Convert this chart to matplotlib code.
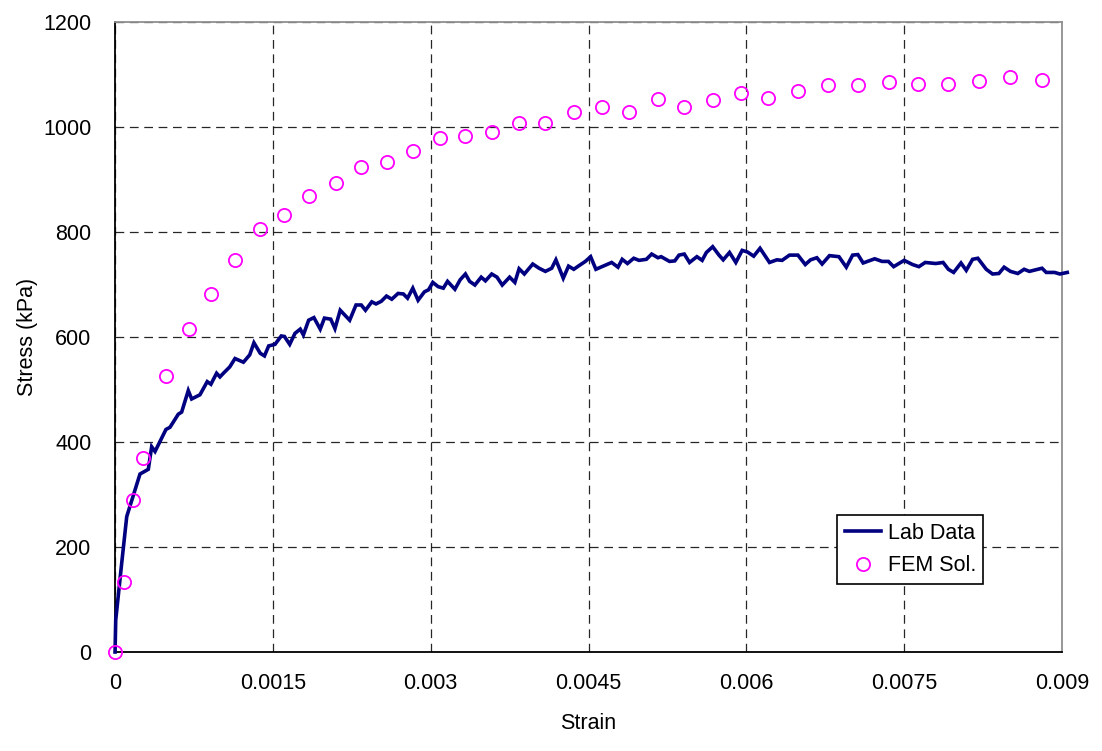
import numpy as np
import matplotlib.pyplot as plt
from matplotlib.ticker import FixedLocator, FixedFormatter

plt.rcParams['font.family'] = ['Liberation Sans', 'DejaVu Sans']

# Lab test: stress-strain record
lab_strain = [
    0.0, 0.0000064, 0.0000636, 0.000111, 0.000237, 0.000316, 0.000348, 0.00038,
    0.000427, 0.000484, 0.000522, 0.000601, 0.000633, 0.000696, 0.000728, 0.000807,
    0.000876, 0.000911, 0.000965, 0.000997, 0.00103, 0.00109, 0.00114, 0.00122,
    0.00128, 0.00132, 0.00138, 0.00142, 0.00146, 0.00152, 0.00158, 0.00161,
    0.00166, 0.00171, 0.00176, 0.00179, 0.00184, 0.00189, 0.00195, 0.00199,
    0.00205, 0.00209, 0.00214, 0.00223, 0.00229, 0.00234, 0.00238, 0.00244,
    0.00248, 0.00253, 0.00258, 0.00263, 0.00269, 0.00274, 0.00278, 0.00283,
    0.00288, 0.00294, 0.00298, 0.00302, 0.00307, 0.00312, 0.00316, 0.00323,
    0.00328, 0.00333, 0.00337, 0.00342, 0.00348, 0.00352, 0.00358, 0.00363,
    0.00368, 0.00375, 0.0038, 0.00384, 0.00389, 0.00397, 0.00403, 0.00409,
    0.00415, 0.00419, 0.00426, 0.00431, 0.00436, 0.00441, 0.00447, 0.00452,
    0.00457, 0.00464, 0.00472, 0.00478, 0.00482, 0.00487, 0.00493, 0.00498,
    0.00505, 0.0051, 0.00516, 0.00519, 0.00527, 0.00532, 0.00536, 0.00541,
    0.00546, 0.00553, 0.00558, 0.00562, 0.00568, 0.00574, 0.00578, 0.00584,
    0.0059, 0.00596, 0.00601, 0.00607, 0.00613, 0.00622, 0.00629, 0.00634,
    0.00641, 0.00649, 0.00656, 0.00661, 0.00667, 0.00672, 0.00679, 0.00688,
    0.00695, 0.00701, 0.00706, 0.00711, 0.00722, 0.00729, 0.00735, 0.0074,
    0.0075, 0.00758, 0.00764, 0.0077, 0.0078, 0.00787, 0.00792, 0.00797,
    0.00804, 0.00809, 0.00815, 0.0082, 0.00828, 0.00834, 0.0084, 0.00845,
    0.00851, 0.00858, 0.00864, 0.00869, 0.00881, 0.00885, 0.00893, 0.00898,
    0.00905,
]
lab_stress = [
    0, 61, 170, 258, 339, 348, 391, 382,
    401, 424, 428, 453, 457, 498, 482, 490,
    515, 510, 531, 524, 531, 543, 559, 552,
    566, 589, 569, 564, 583, 586, 602, 601,
    586, 607, 615, 604, 632, 637, 615, 636,
    634, 616, 651, 632, 661, 661, 651, 667,
    663, 668, 678, 672, 683, 682, 674, 693,
    670, 686, 690, 704, 696, 693, 706, 691,
    709, 720, 706, 699, 714, 707, 720, 714,
    699, 714, 704, 730, 720, 739, 731, 725,
    731, 747, 712, 735, 729, 736, 744, 753,
    729, 735, 742, 733, 748, 740, 750, 746,
    748, 758, 751, 753, 744, 745, 756, 758,
    742, 753, 746, 761, 772, 756, 747, 761,
    742, 765, 762, 754, 769, 742, 747, 746,
    756, 756, 738, 747, 751, 739, 755, 753,
    733, 756, 757, 741, 749, 744, 744, 734,
    746, 738, 734, 742, 740, 742, 729, 723,
    741, 727, 748, 750, 729, 720, 721, 733,
    725, 721, 729, 725, 731, 723, 723, 720,
    723,
]

# Finite element prediction
fem_strain = [
    0.0, 0.0000854, 0.000171, 0.000266, 0.000484, 0.000703, 0.000911, 0.00114,
    0.00138, 0.00161, 0.00184, 0.00210, 0.00234, 0.00258, 0.00283, 0.00309,
    0.00333, 0.00358, 0.00384, 0.00409, 0.00436, 0.00463, 0.00488, 0.00516,
    0.00541, 0.00568, 0.00595, 0.00621, 0.00649, 0.00678, 0.00706, 0.00736,
    0.00763, 0.00792, 0.00821, 0.00851, 0.00881,
]
fem_stress = [
    0, 133, 290, 370, 526, 615, 682, 747,
    806, 832, 869, 893, 924, 933, 954, 979,
    983, 990, 1008, 1008, 1029, 1038, 1029, 1053,
    1038, 1051, 1065, 1055, 1069, 1080, 1080, 1086,
    1082, 1082, 1088, 1095, 1090,
]

x_ticks = [0, 0.0015, 0.003, 0.0045, 0.006, 0.0075, 0.009]
x_tick_labels = ['0', '0.0015', '0.003', '0.0045', '0.006', '0.0075', '0.009']
y_ticks = [0, 200, 400, 600, 800, 1000, 1200]

fig = plt.figure(figsize=(11.02, 7.51), dpi=100)
ax = fig.add_axes([0.1044, 0.1318, 0.8593, 0.8389])

ax.plot(lab_strain, lab_stress, color='#000080', lw=2.6, label='Lab Data',
        zorder=3, clip_on=False, solid_joinstyle='miter')
ax.plot(fem_strain, fem_stress, ls='none', marker='o', ms=9.5, mfc='none',
        mec='#FF00FF', mew=1.3, label='FEM Sol.', zorder=4, clip_on=False)

ax.set_xlim(0, 0.009)
ax.set_ylim(0, 1200)
ax.xaxis.set_major_locator(FixedLocator(x_ticks))
ax.xaxis.set_major_formatter(FixedFormatter(x_tick_labels))
ax.yaxis.set_major_locator(FixedLocator(y_ticks))

ax.grid(True, color='#000000', ls=(0, (7, 4.5)), lw=0.9, alpha=0.85)
ax.set_axisbelow(True)

ax.tick_params(axis='both', length=0, labelsize=15.5, colors='black')
ax.tick_params(axis='x', pad=15)
ax.tick_params(axis='y', pad=17)

for side in ('left', 'bottom'):
    ax.spines[side].set_color('black')
    ax.spines[side].set_linewidth(1.3)
for side in ('top', 'right'):
    ax.spines[side].set_color('#909090')
    ax.spines[side].set_linewidth(1.3)

ax.set_xlabel('Strain', fontsize=15.5, labelpad=14)
ax.set_ylabel('Stress (kPa)', fontsize=15.5, labelpad=4)

leg = ax.legend(loc='upper left', bbox_to_anchor=(0.7595, 0.3142),
                bbox_transform=fig.transFigure, fontsize=15.5, fancybox=False,
                framealpha=1, edgecolor='black', handlelength=1.7,
                handletextpad=0.3, borderpad=0.35, labelspacing=0.55,
                borderaxespad=0)
leg.get_frame().set_linewidth(1.2)

fig.savefig('out.png', dpi=100)
